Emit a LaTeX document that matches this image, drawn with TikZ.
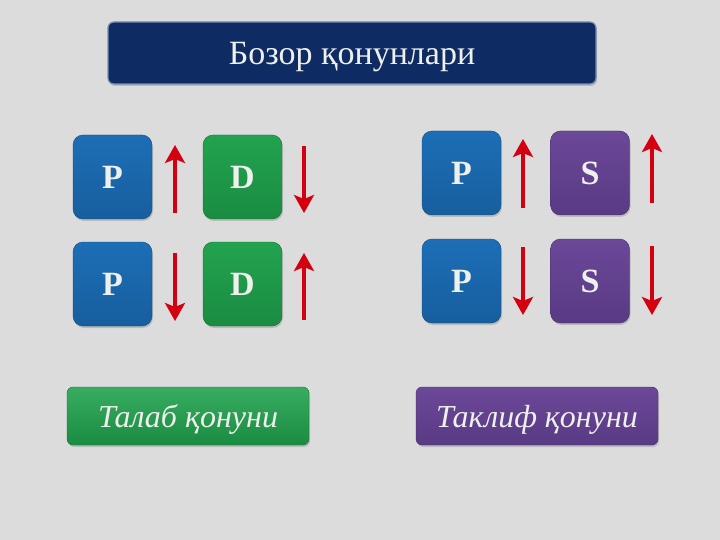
\documentclass[tikz,border=0pt]{standalone}
\usepackage{fontspec}
\setmainfont{Liberation Serif}
\usetikzlibrary{arrows.meta,shadows}
\definecolor{bg}{HTML}{DCDCDC}
\definecolor{navy}{HTML}{0F2B63}
\definecolor{navyedge}{HTML}{7A8DB2}
\definecolor{pblue}{HTML}{1D6EB6}
\definecolor{pbluedark}{HTML}{175E9E}
\definecolor{dgreen}{HTML}{22A34F}
\definecolor{dgreendark}{HTML}{1A8C42}
\definecolor{spurple}{HTML}{6B4898}
\definecolor{spurpledark}{HTML}{593A84}
\definecolor{arrred}{HTML}{D40010}
\definecolor{txt}{HTML}{EEF0EC}
\tikzset{
  card/.style={rounded corners=10pt, minimum width=79pt, minimum height=84pt, inner sep=0pt,
    text=txt, font=\fontsize{34}{34}\selectfont\bfseries,
    drop shadow={opacity=0.35, shadow xshift=1pt, shadow yshift=-2pt}},
  pcard/.style={card, top color=pblue, bottom color=pbluedark, draw=pbluedark!80!black},
  dcard/.style={card, top color=dgreen, bottom color=dgreendark, draw=dgreendark!80!black},
  scard/.style={card, top color=spurple, bottom color=spurpledark, draw=spurpledark!80!black},
  bar/.style={rounded corners=6pt, inner sep=0pt, text=txt, text depth=0pt,
    drop shadow={opacity=0.35, shadow xshift=1pt, shadow yshift=-2pt}},
  redarrow/.style={draw=arrred, line width=4.5pt, -{Stealth[width=20pt,length=18pt,inset=4pt]}},
}
\begin{document}
\begin{tikzpicture}[x=1pt,y=-1pt]
\fill[bg] (0,0) rectangle (720,540);
\useasboundingbox (0,0) rectangle (720,540);

\node[bar, fill=navy, draw=navyedge, line width=1.2pt, minimum width=488pt, minimum height=62pt,
  font=\fontsize{34}{34}\selectfont] (title) at (352,53) {Бозор қонунлари};

% left group
\node[pcard] (p1) at (112.5,177) {P};
\node[dcard] (d1) at (242.5,177) {D};
\node[pcard] (p2) at (112.5,284) {P};
\node[dcard] (d2) at (242.5,284) {D};
\coordinate (a1s) at (175,213); \coordinate (a1e) at (175,145);
\coordinate (a2s) at (304,146); \coordinate (a2e) at (304,213);
\coordinate (a3s) at (175,253); \coordinate (a3e) at (175,321);
\coordinate (a4s) at (304,320); \coordinate (a4e) at (304,253);
\draw[redarrow] (a1s) -- (a1e);
\draw[redarrow] (a2s) -- (a2e);
\draw[redarrow] (a3s) -- (a3e);
\draw[redarrow] (a4s) -- (a4e);

% right group
\node[pcard] (p3) at (461.5,173) {P};
\node[scard] (s1) at (590,173) {S};
\node[pcard] (p4) at (461.5,281) {P};
\node[scard] (s2) at (590,281) {S};
\coordinate (b1s) at (523,208); \coordinate (b1e) at (523,139);
\coordinate (b2s) at (652,203); \coordinate (b2e) at (652,134);
\coordinate (b3s) at (523,247); \coordinate (b3e) at (523,315);
\coordinate (b4s) at (652,246); \coordinate (b4e) at (652,315);
\draw[redarrow] (b1s) -- (b1e);
\draw[redarrow] (b2s) -- (b2e);
\draw[redarrow] (b3s) -- (b3e);
\draw[redarrow] (b4s) -- (b4e);

% bottom labels
\node[bar, top color=dgreen!90!white, bottom color=dgreendark, draw=dgreendark!80!black,
  minimum width=242pt, minimum height=58pt, font=\fontsize{32}{32}\selectfont\itshape] (talab) at (188,416) {Талаб қонуни};
\node[bar, top color=spurple, bottom color=spurpledark, draw=spurpledark!80!black,
  minimum width=242pt, minimum height=58pt, font=\fontsize{32}{32}\selectfont\itshape] (taklif) at (537,416) {Таклиф қонуни};
\end{tikzpicture}
\end{document}
